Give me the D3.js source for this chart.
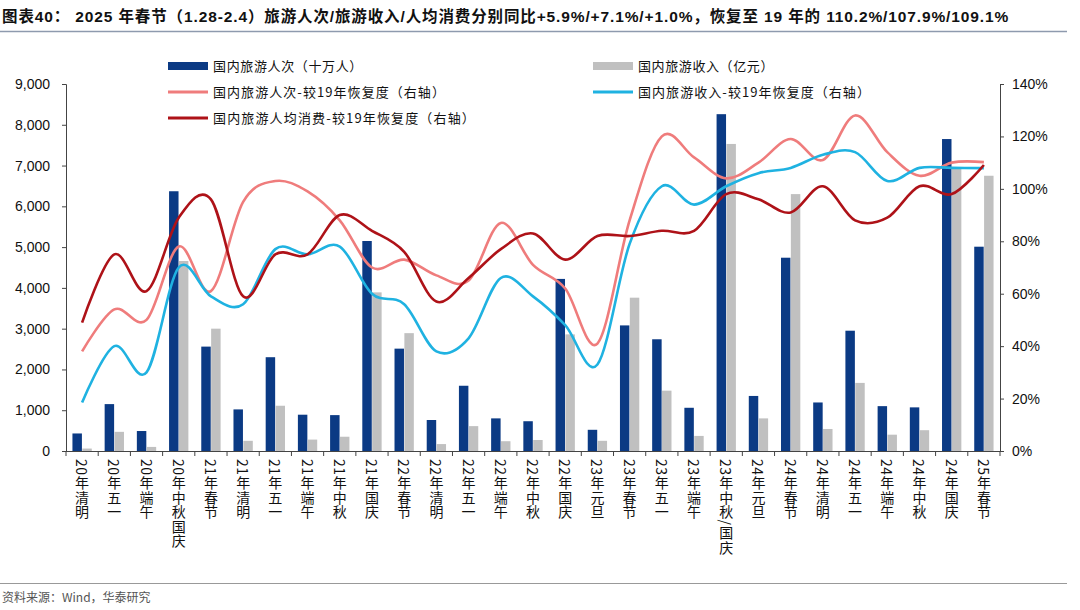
<!DOCTYPE html>
<html><head><meta charset="utf-8">
<script src="https://cdn.jsdelivr.net/npm/d3@7"></script>
<style>
html,body{margin:0;padding:0;background:#fff;}
svg{display:block;}
</style></head>
<body><svg id="c" width="1080" height="610"></svg>
<script>
const categories = ["20年清明","20年五一","20年端午","20年中秋国庆","21年春节","21年清明","21年五一","21年端午","21年中秋","21年国庆","22年春节","22年清明","22年五一","22年端午","22年中秋","22年国庆","23年元旦","23年春节","23年五一","23年端午","23年中秋/国庆","24年元旦","24年春节","24年清明","24年五一","24年端午","24年中秋","24年国庆","25年春节"];
const trips = [430,1150,490,6370,2560,1020,2300,890,880,5150,2510,760,1600,800,730,4220,520,3080,2740,1060,8260,1350,4740,1190,2950,1100,1070,7650,5010];
const revenue = [60,470,100,4660,3000,250,1110,280,350,3890,2890,170,610,240,270,2860,250,3760,1480,370,7530,800,6300,540,1670,400,510,6960,6750];
const tripsRec = [38,54,50,78,61,95,103,99,88,70,73,67,65,87,71,62,41,88,120,112,104,110,119,111,128,114,105,110,110.2];
const revenueRec = [18.5,40,30,70,59,56,77,75,78,60,56,38,43,66,59,48,33,79,101,94,101,106,108,113,114,103,108,108,107.9];
const perCapRec = [49,75,61,89,96,59,75,75,90,84,76,57,66,77,83,73,82,82,84,84,98,96,91,101,88,89,101,98,109.1];
const leftTicks = [0,1000,2000,3000,4000,5000,6000,7000,8000,9000];
const rightTicks = [0,20,40,60,80,100,120,140];
const titleText = "图表40：  2025 年春节（1.28-2.4）旅游人次/旅游收入/人均消费分别同比+5.9%/+7.1%/+1.0%，恢复至 19 年的 110.2%/107.9%/109.1%";

const svg = d3.select("#c");
const L = 66, R = 1000, T = 84, B = 451;
const C = {navy:"#0B3A84", grey:"#C0C0C0", pink:"#EF7C7C", blue:"#1FB2E1", dark:"#AE1218"};

function fitSpacing(sel, target){
  const n = sel.text().length;
  const w = sel.node().getComputedTextLength();
  sel.attr("letter-spacing", ((target - w)/n).toFixed(3));
}

// title
const tt = svg.append("text").attr("x",2).attr("y",22)
  .attr("font-family","'Liberation Sans','Noto Sans CJK SC',sans-serif").attr("font-weight","bold").attr("font-size",15.5).attr("fill","#111")
  .text(titleText);
fitSpacing(tt, 1008);
svg.append("line").attr("x1",0).attr("x2",1067).attr("y1",31.5).attr("y2",31.5).attr("stroke","#8E9AAE").attr("stroke-width",1.5);
svg.append("line").attr("x1",0).attr("x2",1067).attr("y1",583.5).attr("y2",583.5).attr("stroke","#999").attr("stroke-width",1);
svg.append("text").attr("x",2).attr("y",602).attr("font-family","'Noto Sans CJK SC',sans-serif").attr("font-size",12).attr("fill","#555")
  .text("资料来源：Wind，华泰研究");

const x0 = d3.scaleBand().domain(categories).range([L,R]).paddingInner(0.4).paddingOuter(0.2);
const x1 = d3.scaleBand().domain(["t","r"]).range([0,x0.bandwidth()]).paddingInner(0.04);
const yL = d3.scaleLinear().domain([0,9000]).range([B,T]);
const yR = d3.scaleLinear().domain([0,140]).range([B,T]);
const step = (R-L)/categories.length;
const cx = d => x0(d) + x0.bandwidth()/2;

// bars
const g = svg.append("g");
g.selectAll(".bt").data(categories).join("rect")
  .attr("x",d=>x0(d)+x1("t")).attr("width",x1.bandwidth())
  .attr("y",(d,i)=>yL(trips[i])).attr("height",(d,i)=>B-yL(trips[i])).attr("fill",C.navy);
g.selectAll(".br").data(categories).join("rect")
  .attr("x",d=>x0(d)+x1("r")).attr("width",x1.bandwidth())
  .attr("y",(d,i)=>yL(revenue[i])).attr("height",(d,i)=>B-yL(revenue[i])).attr("fill",C.grey);

// lines
const line = arr => d3.line().x((d,i)=>cx(categories[i])).y(d=>yR(d)).curve(d3.curveCardinal.tension(0))(arr);
[[tripsRec,C.pink],[revenueRec,C.blue],[perCapRec,C.dark]].forEach(([a,c])=>{
  svg.append("path").attr("d",line(a)).attr("fill","none").attr("stroke",c).attr("stroke-width",2.6);
});

// axes
const fontAx = "'Liberation Sans',Arial,sans-serif";
const la = svg.append("g").attr("transform",`translate(${L},0)`)
  .call(d3.axisLeft(yL).tickValues(leftTicks).tickFormat(d3.format(",")).tickSizeOuter(0).tickSize(4).tickPadding(12));
const ra = svg.append("g").attr("transform",`translate(${R},0)`)
  .call(d3.axisRight(yR).tickValues(rightTicks).tickFormat(d=>d+"%").tickSizeOuter(0).tickSize(4).tickPadding(8));
[la,ra].forEach(a=>{
  a.select(".domain").attr("stroke","#444");
  a.selectAll(".tick line").attr("stroke","#444");
  a.selectAll(".tick text").attr("font-family",fontAx).attr("font-size",14).attr("fill","#111");
});
// x axis
svg.append("line").attr("x1",L).attr("x2",R).attr("y1",B+0.5).attr("y2",B+0.5).attr("stroke","#444");
svg.selectAll(".xt").data(d3.range(categories.length+1)).join("line")
  .attr("x1",i=>L+i*step).attr("x2",i=>L+i*step).attr("y1",B).attr("y2",B+5).attr("stroke","#444");
svg.selectAll(".xl").data(categories).join("text")
  .attr("x",d=>cx(d)).attr("y",B+8)
  .attr("writing-mode","vertical-rl")
  .style("writing-mode","vertical-rl")
  .attr("letter-spacing",0.6)
  .attr("font-family","'Noto Sans CJK SC',sans-serif").attr("font-size",14).attr("fill","#111")
  .text(d=>d);

// legend
const legend = [
  {t:"国内旅游人次（十万人）",c:C.navy,bar:true,x:168,y:66,w:150},
  {t:"国内旅游收入（亿元）",c:C.grey,bar:true,x:593,y:66,w:136},
  {t:"国内旅游人次-较19年恢复度（右轴）",c:C.pink,bar:false,x:168,y:92,w:233},
  {t:"国内旅游收入-较19年恢复度（右轴）",c:C.blue,bar:false,x:593,y:92,w:233},
  {t:"国内旅游人均消费-较19年恢复度（右轴）",c:C.dark,bar:false,x:168,y:118,w:263}
];
const lg = svg.append("g");
legend.forEach(l=>{
  if(l.bar) lg.append("rect").attr("x",l.x).attr("y",l.y-4).attr("width",40).attr("height",8).attr("fill",l.c);
  else lg.append("line").attr("x1",l.x).attr("x2",l.x+40).attr("y1",l.y).attr("y2",l.y).attr("stroke",l.c).attr("stroke-width",3);
  const t = lg.append("text").attr("x",l.x+45).attr("y",l.y+5).attr("font-family","'Noto Sans CJK SC',sans-serif").attr("font-size",13).attr("fill","#111").text(l.t);
  fitSpacing(t, l.w);
});
</script></body></html>
